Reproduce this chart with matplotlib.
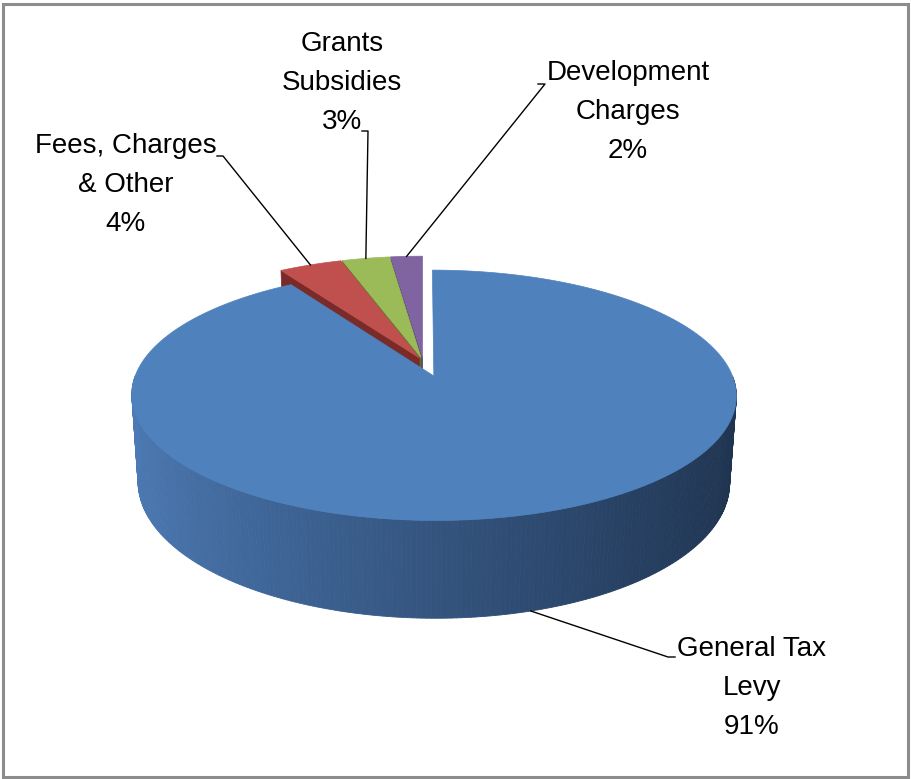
import numpy as np
import matplotlib.pyplot as plt
from matplotlib.patches import Polygon, Rectangle

# Budget sources (percent of total)
labels = ['General Tax\nLevy', 'Fees, Charges\n& Other', 'Grants\nSubsidies', 'Development\nCharges']
shares = [91, 4, 3, 2]
top_colors = ['#4f81bd', '#c0504d', '#9bbb59', '#8064a2']
cut_colors = ['#2b4669', '#7a2b29', '#5d7530', '#4a3866']
explode = [0.13, 0.03, 0.03, 0.03]

# label centres, leader elbows and stub ends (pixels)
label_xy = [(752, 688), (126, 185), (342, 83), (628, 112)]
elbow_xy = [(668, 657), (223, 156), (368, 131), (545, 84)]
stub_x = [675, 217, 362, 538]

# 3d view of the pie, roughly as Excel draws it
cx, cy = 423, 361
scale_x, scale_y = 293, 295
tilt = np.radians(23.5)
dist = 6.06
depth = 0.32


def project(X, Y, Z):
    v = Y * np.sin(tilt) + Z * np.cos(tilt)
    w = Y * np.cos(tilt) - Z * np.sin(tilt)
    s = dist / (dist + w)
    return cx + scale_x * X * s, cy - scale_y * v * s


def lerp(c1, c2, t):
    return tuple((1 - t) * a + t * b for a, b in zip(c1, c2))


side_light = (0.30, 0.48, 0.71)
side_dark = (0.12, 0.20, 0.31)

plt.rcParams['font.family'] = ['Liberation Sans', 'DejaVu Sans']

fig = plt.figure(figsize=(9.12, 7.79), dpi=100)
ax = fig.add_axes([0, 0, 1, 1])
ax.set_xlim(0, 912)
ax.set_ylim(779, 0)
ax.axis('off')

fracs = np.array(shares) / sum(shares)
ends = 90 - 360 * np.cumsum(fracs)
starts = np.r_[90, ends[:-1]]
mids = np.radians((starts + ends) / 2)
offs = [(e * np.cos(m), e * np.sin(m)) for e, m in zip(explode, mids)]

# draw from the back slices to the front one
for i in reversed(range(len(shares))):
    dx, dy = offs[i]
    a0, a1 = np.radians(starts[i]), np.radians(ends[i])

    # radial cut faces turned towards the viewer
    for phi, nrm in [(a0, a0 + np.pi / 2), (a1, a1 - np.pi / 2)]:
        if np.sin(nrm) < -1e-6:
            X = np.array([0, np.cos(phi), np.cos(phi), 0]) + dx
            Y = np.array([0, np.sin(phi), np.sin(phi), 0]) + dy
            Z = np.array([0, 0, -depth, -depth])
            px, py = project(X, Y, Z)
            ax.add_patch(Polygon(np.c_[px, py], closed=True, fc=cut_colors[i],
                                 ec=cut_colors[i], lw=0.5, zorder=2))

    # outer wall, shaded from left to right
    th = np.linspace(a0, a1, 400)
    for k in range(len(th) - 1):
        tm = (th[k] + th[k + 1]) / 2
        if np.sin(tm) >= 0:
            continue
        t1, t2 = th[k], th[k + 1]
        X = np.array([np.cos(t1), np.cos(t2), np.cos(t2), np.cos(t1)]) + dx
        Y = np.array([np.sin(t1), np.sin(t2), np.sin(t2), np.sin(t1)]) + dy
        Z = np.array([0, 0, -depth, -depth])
        px, py = project(X, Y, Z)
        t = ((np.cos(tm) + 1) / 2) ** 0.9
        col = lerp(side_light, side_dark, t)
        ax.add_patch(Polygon(np.c_[px, py], closed=True, fc=col, ec=col,
                             lw=0.6, zorder=2))

    # top face
    th = np.linspace(a0, a1, 300)
    X = np.r_[0, np.cos(th)] + dx
    Y = np.r_[0, np.sin(th)] + dy
    px, py = project(X, Y, np.zeros_like(X))
    ax.add_patch(Polygon(np.c_[px, py], closed=True, fc=top_colors[i],
                         ec=top_colors[i], lw=0.5, zorder=2))

# labels with leader lines
for i, lab in enumerate(labels):
    dx, dy = offs[i]
    m = mids[i]
    z = -depth if np.sin(m) < 0 else 0.0
    ax_, ay_ = project(np.cos(m) + dx, np.sin(m) + dy, z)
    ex, ey = elbow_xy[i]
    ax.plot([ax_, ex, stub_x[i]], [ay_, ey, ey], color='black', lw=1.0, zorder=3)
    ax.text(label_xy[i][0], label_xy[i][1], f'{lab}\n{shares[i]}%',
            ha='center', va='center', multialignment='center',
            fontsize=20, linespacing=1.65, color='black', zorder=4)

# chart frame
fig.patches.append(Rectangle((3 / 912, 2 / 779), 905 / 912, 773 / 779,
                             transform=fig.transFigure, fill=False,
                             ec='#8c8c8c', lw=2.2))

fig.savefig('out.png', dpi=100, facecolor='white')
